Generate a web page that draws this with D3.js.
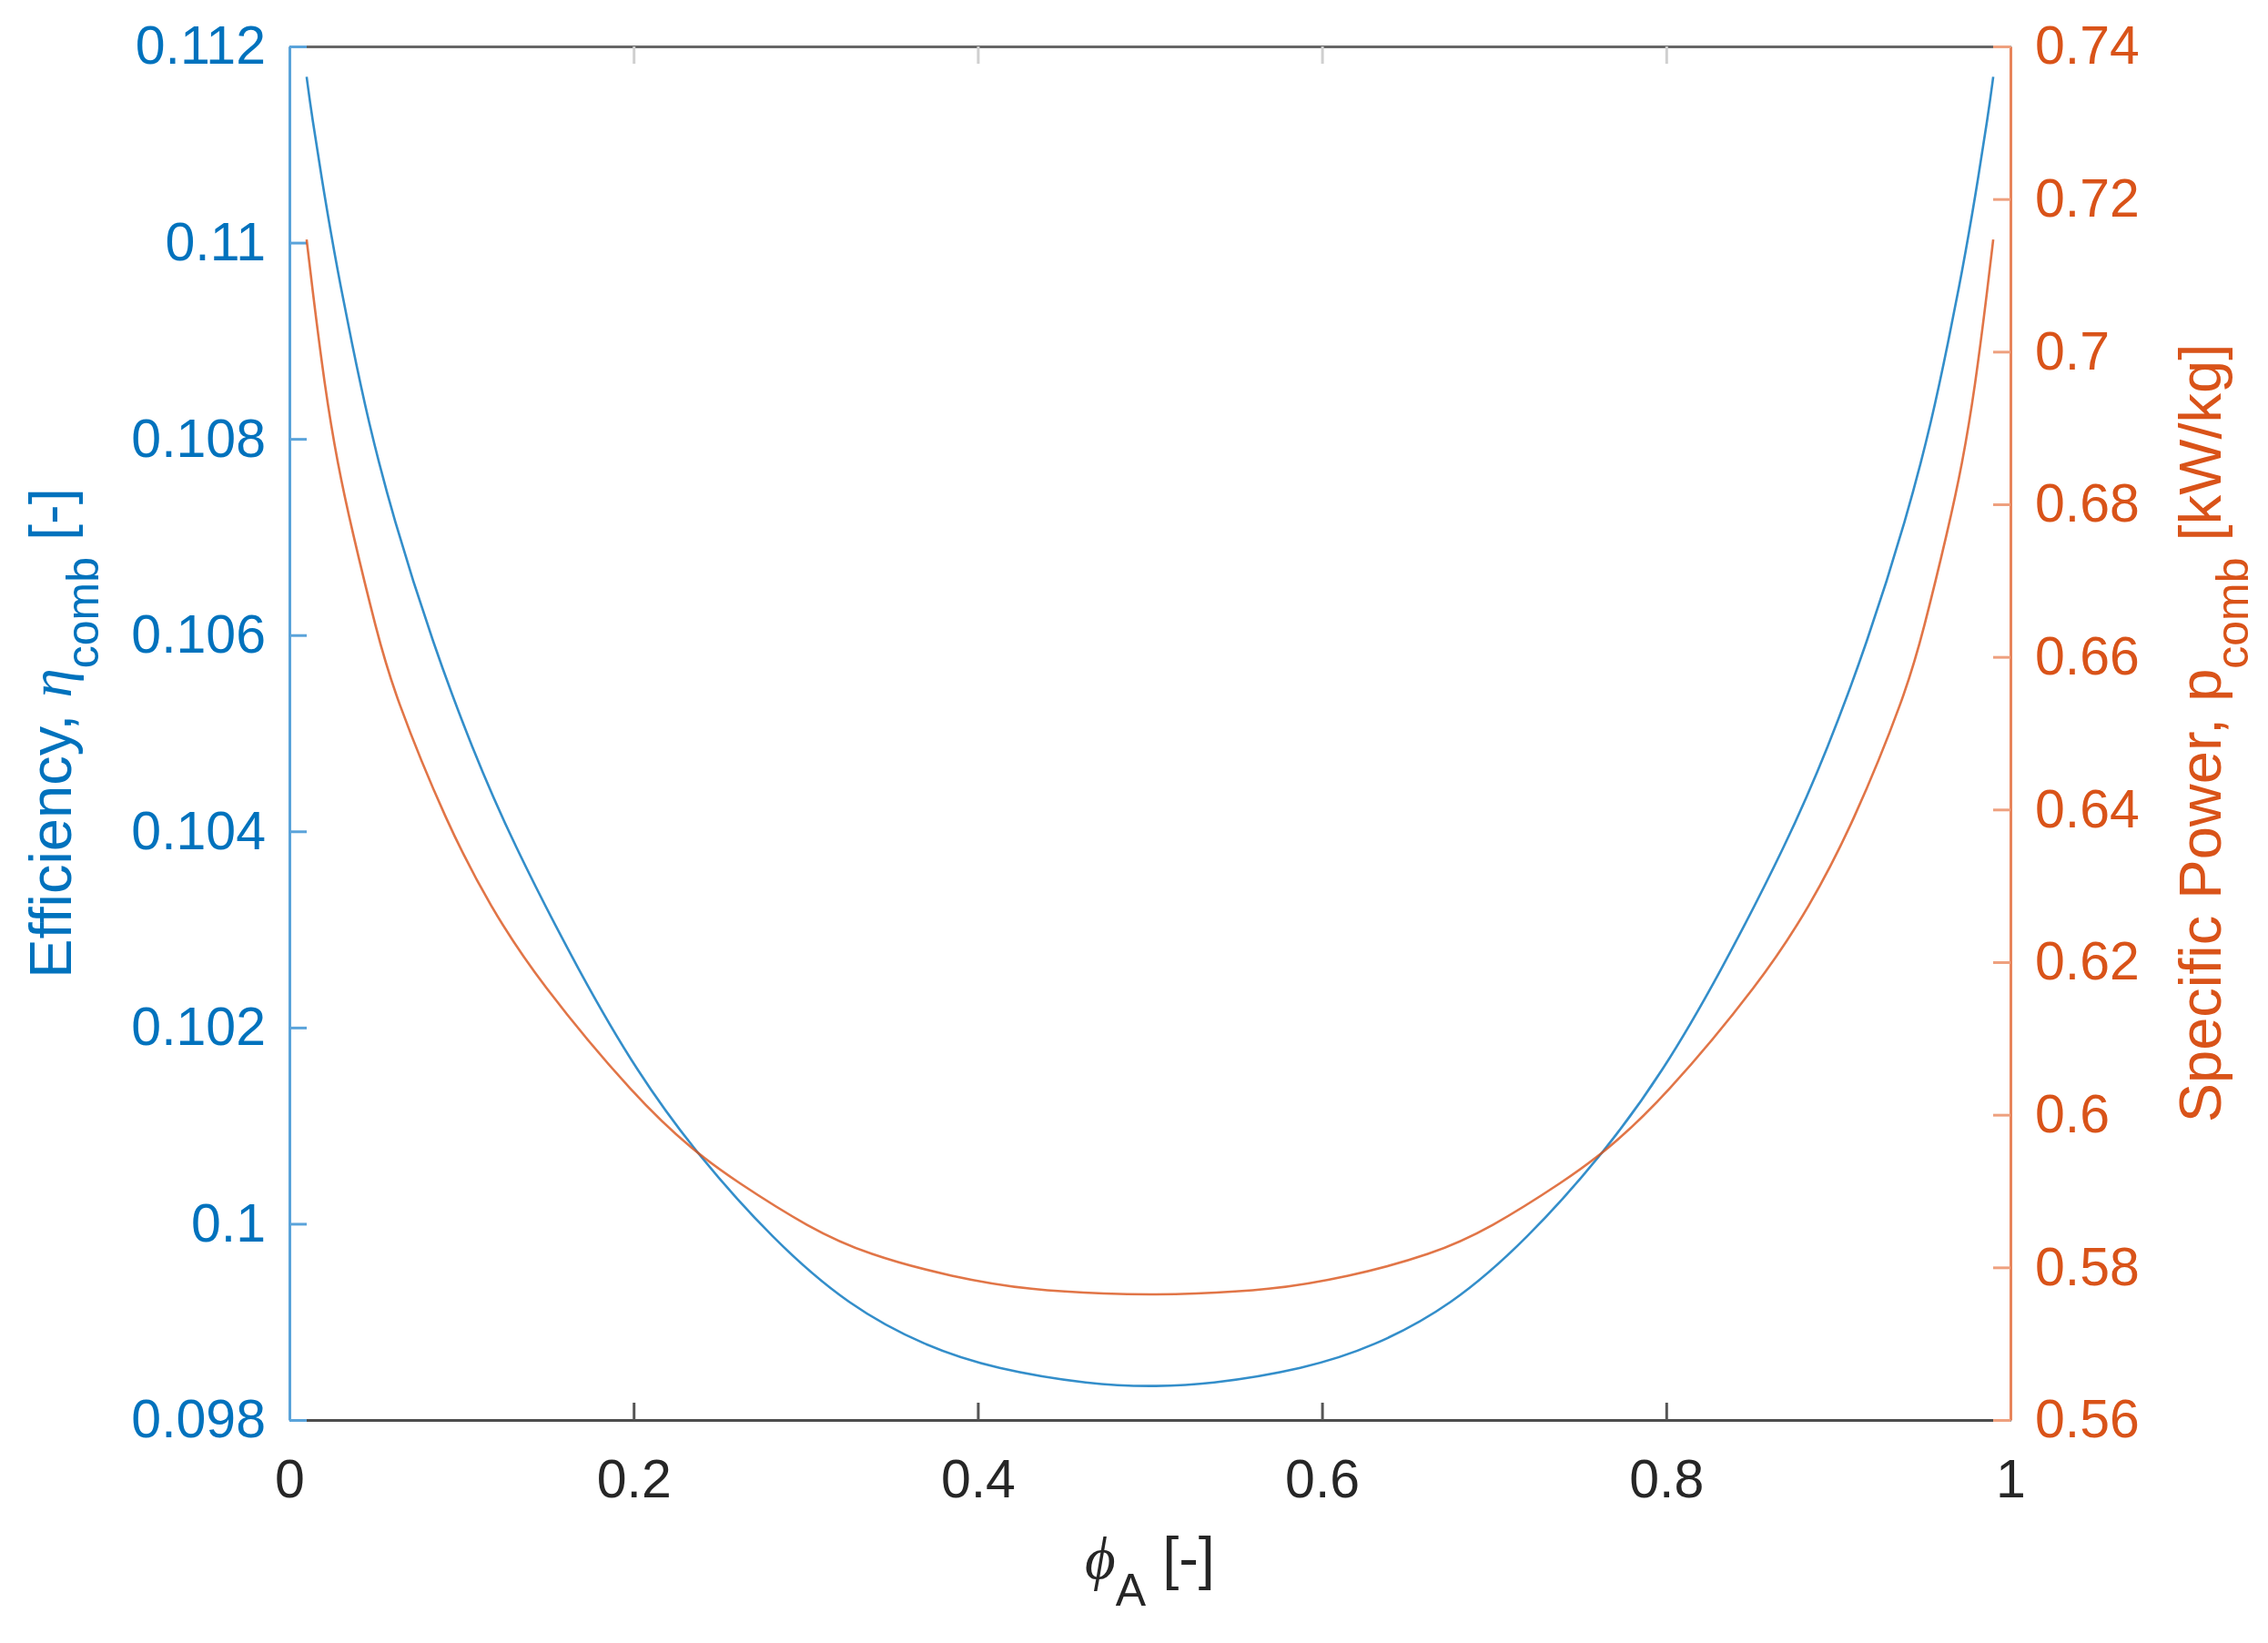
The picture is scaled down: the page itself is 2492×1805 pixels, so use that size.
<!DOCTYPE html>
<html lang="en">

<head>
    <meta charset="UTF-8">
    <title>Efficiency and specific power vs phi_A</title>
    <script src="https://cdn.jsdelivr.net/npm/d3@7/dist/d3.min.js"></script>
    <style>
        body { margin: 0; background: #fff; }
        svg text { font-family: "Liberation Sans", Arial, Helvetica, sans-serif; }
    </style>
</head>

<body>
    <div id="chart"></div>

    <script>
        // values
        var phiEff = [0.010, 0.0127, 0.0206, 0.028, 0.036, 0.0455, 0.060, 0.0836, 0.1063, 0.129, 0.1697, 0.202,
            0.2353, 0.2813, 0.3252, 0.3696, 0.41, 0.4664, 0.50, 0.5336, 0.59, 0.6304, 0.6748, 0.7187, 0.7647,
            0.798, 0.8303, 0.871, 0.8937, 0.9164, 0.94, 0.9545, 0.964, 0.972, 0.9794, 0.9873, 0.990];
        var effVals = [0.11169, 0.11133, 0.11045, 0.10971, 0.10900, 0.10820, 0.10721, 0.10590, 0.10484, 0.10391,
            0.10252, 0.10155, 0.10074, 0.09983, 0.09916, 0.09875, 0.09852, 0.09836, 0.09834, 0.09836, 0.09852,
            0.09875, 0.09916, 0.09983, 0.10074, 0.10155, 0.10252, 0.10391, 0.10484, 0.10590, 0.10721, 0.10820,
            0.10900, 0.10971, 0.11045, 0.11133, 0.11169];

        var phiPow = [0.010, 0.0127, 0.0206, 0.028, 0.036, 0.0508, 0.0608, 0.0915, 0.1169, 0.1444, 0.202, 0.2353,
            0.2586, 0.3025, 0.3358, 0.3855, 0.431, 0.477, 0.500, 0.523, 0.569, 0.6145, 0.6642, 0.6975, 0.7414,
            0.7647, 0.798, 0.8556, 0.8831, 0.9085, 0.9392, 0.9492, 0.964, 0.972, 0.9794, 0.9873, 0.990];
        var powVals = [0.7147, 0.7094, 0.6952, 0.6853, 0.6769, 0.6632, 0.6552, 0.6381, 0.6272, 0.6176, 0.6020,
            0.5952, 0.5914, 0.5851, 0.5817, 0.5787, 0.5770, 0.5765, 0.57644, 0.5765, 0.5770, 0.5787, 0.5817,
            0.5851, 0.5914, 0.5952, 0.6020, 0.6176, 0.6272, 0.6381, 0.6552, 0.6632, 0.6769, 0.6853, 0.6952,
            0.7094, 0.7147];

        // tick values and labels
        var xTicks = [0, 0.2, 0.4, 0.6, 0.8, 1];
        var xTickLabels = ["0", "0.2", "0.4", "0.6", "0.8", "1"];
        var effTicks = [0.098, 0.100, 0.102, 0.104, 0.106, 0.108, 0.110, 0.112];
        var effTickLabels = ["0.098", "0.1", "0.102", "0.104", "0.106", "0.108", "0.11", "0.112"];
        var powTicks = [0.56, 0.58, 0.60, 0.62, 0.64, 0.66, 0.68, 0.70, 0.72, 0.74];
        var powTickLabels = ["0.56", "0.58", "0.6", "0.62", "0.64", "0.66", "0.68", "0.7", "0.72", "0.74"];

        var W = 2492, H = 1805;
        // note: "top" is a reserved window property, so use plot* names
        var plotLeft = 318, plotRight = 2209, plotTop = 51, plotBottom = 1560;
        var blue = "#0072BD", orange = "#D95319";
        var tickFont = 59, labelFont = 65, subFont = 50, subShift = 30;

        var svg = d3.select("#chart").append("svg")
            .attr("width", W).attr("height", H)
            .style("background", "#fff");

        var x = d3.scaleLinear().domain([0, 1]).range([plotLeft, plotRight]);
        var yEff = d3.scaleLinear().domain([0.098, 0.112]).range([plotBottom, plotTop]);
        var yPow = d3.scaleLinear().domain([0.56, 0.74]).range([plotBottom, plotTop]);

        function fmt(labels) {
            return function (d, i) { return labels[i]; };
        }

        // top edge (ticks only)
        var gTop = svg.append("g").attr("transform", "translate(0," + plotTop + ")")
            .call(d3.axisTop(x).tickValues(xTicks).tickFormat("").tickSizeInner(-19).tickSizeOuter(0));
        gTop.select(".domain").attr("stroke", "#666").attr("stroke-width", 3);
        gTop.selectAll(".tick line").attr("stroke", "#cfcfcf").attr("stroke-width", 3);

        // bottom axis
        var gBottom = svg.append("g").attr("transform", "translate(0," + plotBottom + ")")
            .call(d3.axisBottom(x).tickValues(xTicks).tickFormat(fmt(xTickLabels))
                .tickSizeInner(-19).tickSizeOuter(0).tickPadding(43));
        gBottom.select(".domain").attr("stroke", "#4d4d4d").attr("stroke-width", 3);
        gBottom.selectAll(".tick line").attr("stroke", "#555").attr("stroke-width", 3);
        gBottom.selectAll(".tick text").attr("fill", "#262626").style("font-size", tickFont + "px");

        // left axis (efficiency)
        var gLeft = svg.append("g").attr("transform", "translate(" + plotLeft + ",0)")
            .call(d3.axisLeft(yEff).tickValues(effTicks).tickFormat(fmt(effTickLabels))
                .tickSizeInner(-19).tickSizeOuter(0).tickPadding(26));
        gLeft.select(".domain").attr("stroke", "#5aa3da").attr("stroke-width", 3);
        gLeft.selectAll(".tick line").attr("stroke", "#5aa3da").attr("stroke-width", 3);
        gLeft.selectAll(".tick text").attr("fill", blue).style("font-size", tickFont + "px");

        // right axis (specific power)
        var gRight = svg.append("g").attr("transform", "translate(" + plotRight + ",0)")
            .call(d3.axisRight(yPow).tickValues(powTicks).tickFormat(fmt(powTickLabels))
                .tickSizeInner(-19).tickSizeOuter(0).tickPadding(27));
        gRight.select(".domain").attr("stroke", "#e8845a").attr("stroke-width", 3);
        gRight.selectAll(".tick line").attr("stroke", "#eea07e").attr("stroke-width", 3);
        gRight.selectAll(".tick text").attr("fill", orange).style("font-size", tickFont + "px");

        // curves (b-spline smooths small reading errors)
        var effLine = d3.line()
            .x(function (d, i) { return x(phiEff[i]); })
            .y(function (d) { return yEff(d); })
            .curve(d3.curveBasis);
        var powLine = d3.line()
            .x(function (d, i) { return x(phiPow[i]); })
            .y(function (d) { return yPow(d); })
            .curve(d3.curveBasis);

        svg.append("path").datum(effVals)
            .attr("d", effLine)
            .attr("fill", "none").attr("stroke", blue)
            .attr("stroke-opacity", 0.8).attr("stroke-width", 2.6);
        svg.append("path").datum(powVals)
            .attr("d", powLine)
            .attr("fill", "none").attr("stroke", orange)
            .attr("stroke-opacity", 0.8).attr("stroke-width", 2.6);

        var greek = '"Liberation Serif", "DejaVu Serif", serif';
        var midY = (plotTop + plotBottom) / 2;

        // x label: phi_A [-]
        var xl = svg.append("text")
            .attr("x", (plotLeft + plotRight) / 2).attr("y", 1734)
            .attr("text-anchor", "middle")
            .attr("fill", "#262626")
            .style("font-size", labelFont + "px");
        xl.append("tspan").style("font-family", greek).style("font-style", "italic").text("\u03D5");
        xl.append("tspan").attr("dy", subShift).style("font-size", subFont + "px").text("A");
        xl.append("tspan").attr("dy", -subShift).text(" [-]");

        // left label: Efficiency, eta_comb [-]
        var yl = svg.append("text")
            .attr("transform", "translate(78," + midY + ") rotate(-90)")
            .attr("text-anchor", "middle")
            .attr("fill", blue)
            .style("font-size", labelFont + "px");
        yl.append("tspan").text("Efficiency, ");
        yl.append("tspan").style("font-family", greek).style("font-style", "italic").text("\u03B7");
        yl.append("tspan").attr("dy", subShift).style("font-size", subFont + "px").text("comb");
        yl.append("tspan").attr("dy", -subShift).text(" [-]");

        // right label: Specific Power, p_comb [kW/kg]
        var yr = svg.append("text")
            .attr("transform", "translate(2440," + midY + ") rotate(-90)")
            .attr("text-anchor", "middle")
            .attr("fill", orange)
            .style("font-size", labelFont + "px");
        yr.append("tspan").text("Specific Power, p");
        yr.append("tspan").attr("dy", subShift).style("font-size", subFont + "px").text("comb");
        yr.append("tspan").attr("dy", -subShift).text(" [kW/kg]");
    </script>
</body>

</html>
